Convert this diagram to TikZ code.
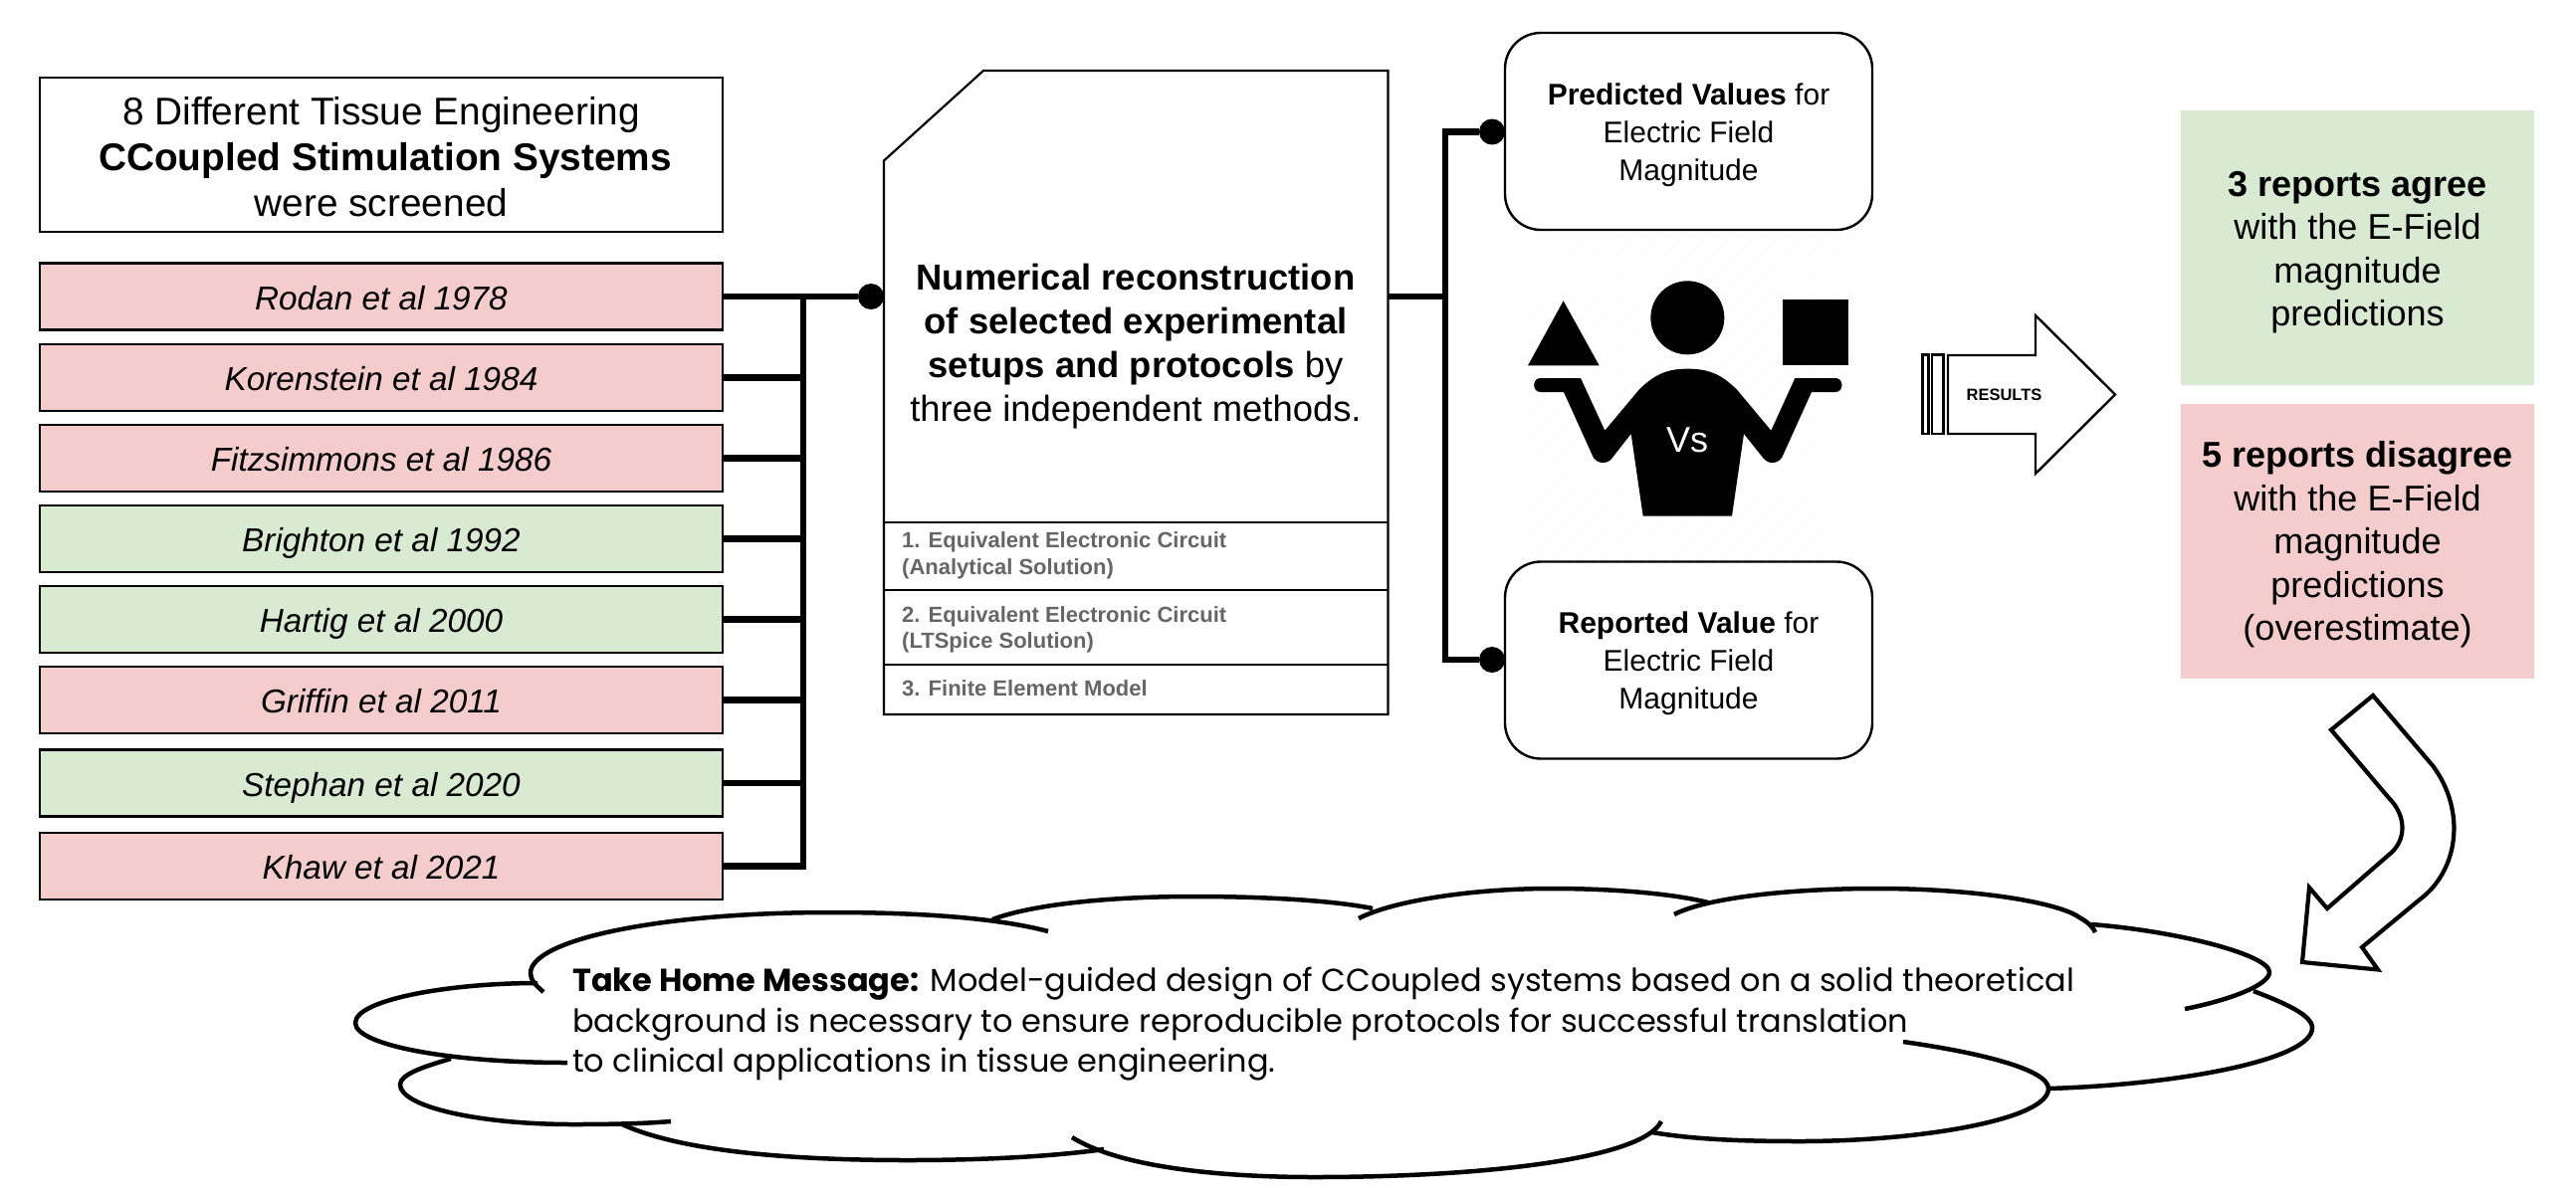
\documentclass[tikz,border=0pt]{standalone}
\usepackage{fontspec}
\setmainfont{Liberation Sans}
\newfontfamily\homefont{Poppins}
\definecolor{pinkbox}{HTML}{F4CCCC}
\definecolor{greenbox}{HTML}{D9EAD3}
\definecolor{methodgrey}{HTML}{666666}
\definecolor{hatch}{HTML}{FAFAFA}
\newcommand{\fs}[2]{\fontsize{#1pt}{#2pt}\selectfont}
\tikzset{
  rowbox/.style={draw=black,line width=2.6pt,minimum width=686pt,minimum height=67pt,inner sep=0pt,text height=33pt,text depth=7pt,font=\fs{33.3}{38}\itshape},
  headbox/.style={draw=black,line width=2.6pt,minimum width=686pt,minimum height=155pt,inner sep=0pt,align=center,font=\fs{38.8}{46}},
  conn/.style={draw=black,line width=6.5pt},
  dotnode/.style={circle,fill=black,minimum size=26pt,inner sep=0pt},
  docline/.style={draw=black,line width=2.2pt},
  doctext/.style={align=center,inner sep=0pt,font=\fs{36.4}{44.2}},
  methodtext/.style={anchor=west,align=left,inner sep=0pt,text=methodgrey,font=\fs{22}{26.5}\bfseries},
  valbox/.style={draw=black,line width=2.4pt,rounded corners=36pt,minimum width=369pt,minimum height=198pt,inner sep=0pt,align=center,font=\fs{30}{38}},
  resultbox/.style={minimum width=355pt,minimum height=276pt,inner sep=0pt,align=center,font=\fs{36}{43.5}},
  outlinearrow/.style={draw=black,line width=2.4pt,fill=white,line join=miter},
  cloudarc/.style={draw=black,line width=4.5pt,line cap=butt},
}
\begin{document}
\begin{tikzpicture}[x=1pt,y=-1pt]
\useasboundingbox (0,0) rectangle (2588,1202);
\fill[white] (0,0) rectangle (2588,1202);

% left column
\node[headbox] (head) at (383,155.5) {};
\node[inner sep=0pt,align=center,font=\fs{38.8}{46}] (headtext) at (383,157.5) {8 Different Tissue Engineering\\\hspace{8pt}\textbf{CCoupled Stimulation Systems}\\were screened};
\node[rowbox,fill=pinkbox]  (r1) at (383,298) {Rodan et al 1978};
\node[rowbox,fill=pinkbox]  (r2) at (383,379.5) {Korenstein et al 1984};
\node[rowbox,fill=pinkbox]  (r3) at (383,460.5) {Fitzsimmons et al 1986};
\node[rowbox,fill=greenbox] (r4) at (383,541.5) {Brighton et al 1992};
\node[rowbox,fill=greenbox] (r5) at (383,622.5) {Hartig et al 2000};
\node[rowbox,fill=pinkbox]  (r6) at (383,703.5) {Griffin et al 2011};
\node[rowbox,fill=greenbox] (r7) at (383,787) {Stephan et al 2020};
\node[rowbox,fill=pinkbox]  (r8) at (383,870.5) {Khaw et al 2021};

\node[dotnode] (dl) at (875,298) {};
\coordinate (bar) at (807,298);
\draw[conn] (r1.east) -- (dl);
\foreach \r in {r2,r3,r4,r5,r6,r7}{\draw[conn] (\r.east) -- (\r.east -| bar);}
\draw[conn] (bar) |- (r8.east);

% document shape
\draw[docline] (988,71) -- (1394.5,71) -- (1394.5,718) -- (888,718) -- (888,161.5) -- cycle;
\draw[docline] (888,525) -- (1394.5,525);
\draw[docline] (888,593) -- (1394.5,593);
\draw[docline] (888,668) -- (1394.5,668);
\node[doctext] (doc) at (1141,348) {\textbf{Numerical reconstruction}\\\textbf{of selected experimental}\\\textbf{setups and protocols} by\\three independent methods.};
\node[methodtext] (m1) at (906,558.5) {1. Equivalent Electronic Circuit\\(Analytical Solution)};
\node[methodtext] (m2) at (906,633) {2. Equivalent Electronic Circuit\\(LTSpice Solution)};
\node[methodtext] (m3) at (906,692) {3. Finite Element Model};
\coordinate (docR) at (1394.5,298);
\coordinate (hub) at (1452,298);

% value boxes
\node[valbox] (pv) at (1696.5,132) {};
\node[valbox] (rv) at (1696.5,663.5) {};
\node[inner sep=0pt,align=center,font=\fs{30}{38}] (pvtext) at (1696.5,136) {\textbf{Predicted Values} for\\Electric Field\\Magnitude};
\node[inner sep=0pt,align=center,font=\fs{30}{38}] (rvtext) at (1696.5,667) {\textbf{Reported Value} for\\Electric Field\\Magnitude};
\node[dotnode] (d1) at (1499,132.5) {};
\node[dotnode] (d2) at (1499,663) {};
\draw[conn] (docR) -- (hub);
\draw[conn] (d1) -| (hub) |- (d2);

% faint hatching behind the icon
\begin{scope}
\clip (1528,233) rectangle (1865,563);
\foreach \k in {0,24,...,720}{\draw[hatch,line width=1.2pt] (1528+\k-330,563) -- (1528+\k,233);}
\end{scope}

% person icon
\begin{scope}[shift={(1500,250)},scale=1/3]
\fill[black] (212,157) -- (320,352) -- (105,352) -- cycle;
\fill[black] (873,154) rectangle (1071,352);
\fill[black] (586,208) circle (111);
\fill[black] (143,390) -- (264,390) -- (337,548) -- (440,425)
  .. controls (490,375) and (530,362) .. (586,362)
  .. controls (645,362) and (685,375) .. (735,425)
  -- (838,548) -- (910,390) -- (1032,390)
  .. controls (1058,390) and (1058,432) .. (1032,432)
  -- (960,432) -- (875,620)
  .. controls (865,650) and (830,652) .. (815,632)
  -- (756,558) -- (720,806) -- (452,806) -- (416,558)
  -- (358,632) .. controls (343,652) and (308,650) .. (298,620)
  -- (213,432) -- (143,432)
  .. controls (117,432) and (117,390) .. (143,390) -- cycle;
\end{scope}
\node[text=white,inner sep=0pt,font=\fs{36}{40}] (vs) at (1695,442) {Vs};

% results arrow
\draw[outlinearrow] (1931.5,356.5) rectangle (1937.5,436);
\draw[outlinearrow] (1941,356.5) rectangle (1952.5,436);
\draw[outlinearrow] (1957,357) -- (2045,357) -- (2045,317) -- (2125,396.5) -- (2045,476) -- (2045,436) -- (1957,436) -- cycle;
\node[inner sep=0pt,font=\fs{16.5}{18}\bfseries] (res) at (2013.5,396.5) {RESULTS};

% results boxes
\node[resultbox,fill=greenbox] (agree) at (2368.5,249) {};
\node[resultbox,fill=pinkbox] (dis) at (2368.5,543.5) {};
\node[inner sep=0pt,align=center,font=\fs{36}{43.5}] (agreetext) at (2368.5,253.5) {\textbf{3 reports agree}\\with the E-Field\\magnitude\\predictions};
\node[inner sep=0pt,align=center,font=\fs{36}{43.5}] (distext) at (2368.5,547.5) {\textbf{5 reports disagree}\\with the E-Field\\magnitude\\predictions\\(overestimate)};

% curved arrow
\draw[draw=black,line width=4.2pt,fill=white,line join=miter]
  (2384,699) -- (2342,733.5) -- (2400,802)
  .. controls (2418,820) and (2418,845) .. (2400,859)
  -- (2338,913) -- (2320,892) -- (2313,967) -- (2389,974.5) -- (2373,952) -- (2431,904)
  .. controls (2470,875) and (2478,815) .. (2444,769.5) -- cycle;

% cloud
\draw[cloudarc] (546,997) .. controls (538,990) and (533,985) .. (533,978) .. controls (533,945) and (660,917) .. (835,917) .. controls (920,917) and (1000,922) .. (1053,936);
\draw[cloudarc] (997,924) .. controls (1040,908) and (1120,901) .. (1200,901) .. controls (1270,901) and (1340,905) .. (1379,913);
\draw[cloudarc] (1365,923) .. controls (1400,905) and (1480,893) .. (1559,893) .. controls (1620,893) and (1680,898) .. (1716,907);
\draw[cloudarc] (1682,919) .. controls (1715,902) and (1800,893) .. (1885,893) .. controls (1990,893) and (2070,908) .. (2089,922) .. controls (2098,927) and (2103,932) .. (2105,937);
\draw[cloudarc] (2101,929) .. controls (2190,936) and (2280,960) .. (2280,977) .. controls (2280,990) and (2240,1005) .. (2195,1014);
\draw[cloudarc] (2264,996) .. controls (2295,1008) and (2323,1020) .. (2323,1033) .. controls (2323,1065) and (2190,1090) .. (2058,1094);
\draw[cloudarc] (1912,1047) .. controls (1990,1058) and (2058,1075) .. (2058,1094) .. controls (2058,1125) and (1930,1147) .. (1808,1147) .. controls (1750,1147) and (1700,1145) .. (1660,1138);
\draw[cloudarc] (1669,1127) .. controls (1650,1165) and (1490,1183) .. (1320,1183) .. controls (1210,1183) and (1120,1170) .. (1077,1143);
\draw[cloudarc] (1109,1155) .. controls (1060,1162) and (990,1166) .. (912,1166) .. controls (780,1166) and (680,1155) .. (625,1130);
\draw[cloudarc] (674,1127) .. controls (650,1129) and (620,1130) .. (576,1130) .. controls (480,1130) and (402,1112) .. (402,1090) .. controls (402,1080) and (425,1072) .. (453,1064);
\draw[cloudarc] (570,1068) .. controls (450,1068) and (357,1050) .. (357,1028) .. controls (357,1005) and (450,988) .. (540,988);
\node[anchor=west,align=left,inner sep=0pt,font=\fs{32}{40.5}\homefont] (msg) at (575,1029.5) {\textbf{Take Home Message:} Model-guided design of CCoupled systems based on a solid theoretical\\background is necessary to ensure reproducible protocols for successful translation\\to clinical applications in tissue engineering.};
\end{tikzpicture}
\end{document}
